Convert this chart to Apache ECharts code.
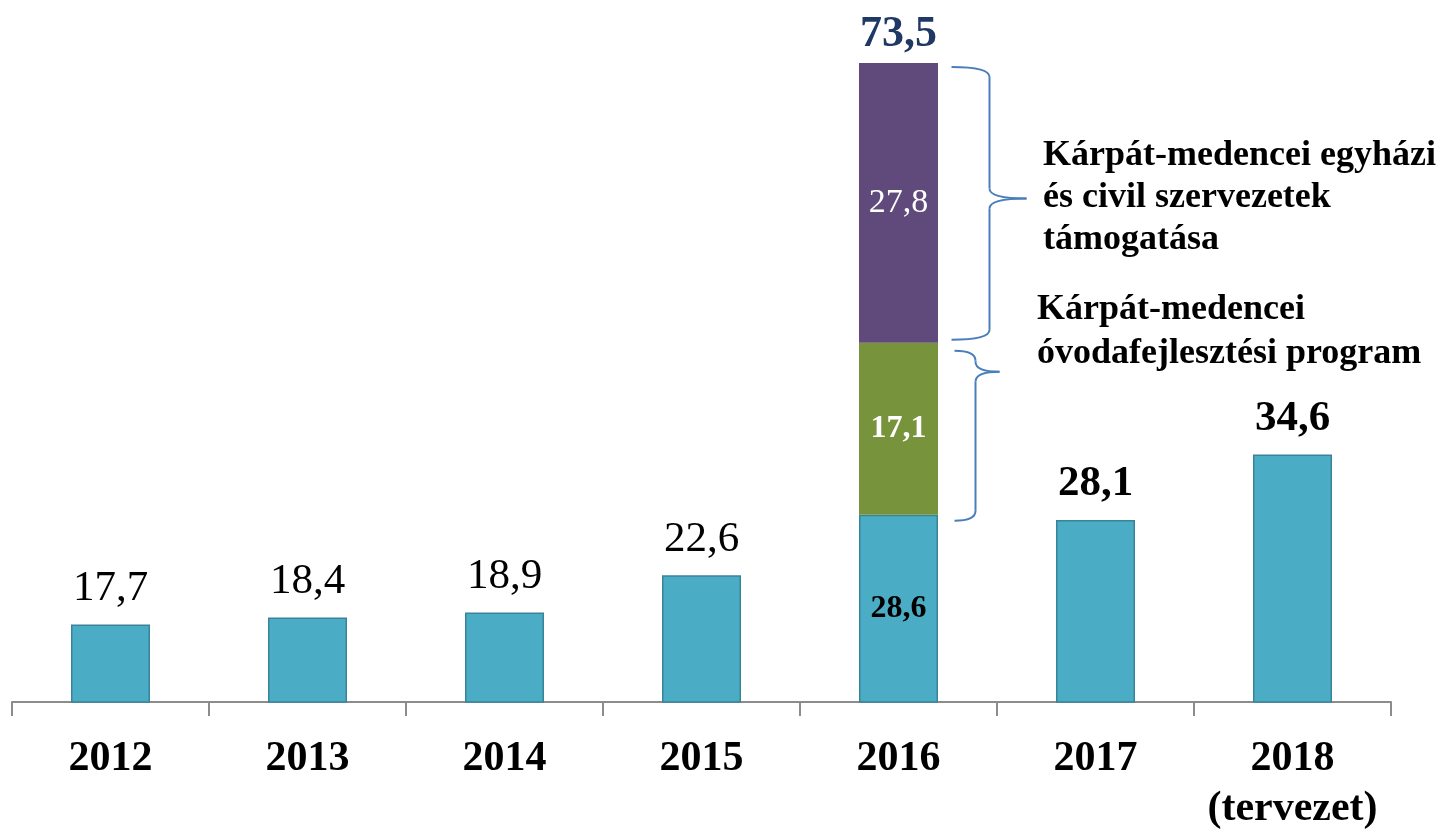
<!DOCTYPE html>
<html>
<head>
    <meta http-equiv="Content-Type" content="text/html; charset=utf-8"/>
    <title>ECharts</title>
    <script src="https://cdn.jsdelivr.net/npm/echarts@6/dist/echarts.min.js"></script>
    <style>
        html, body { margin: 0; padding: 0; background: #fff; }
    </style>
</head>
<body>
<div id="main" style="width: 1455px;height:836px;"></div>
<script type="text/javascript">
    // adatok
    var years = ['2012', '2013', '2014', '2015', '2016', '2017', '2018\n(tervezet)'];
    var baseValues = [17.7, 18.4, 18.9, 22.6, 28.6, 28.1, 34.6];
    var ovodaValues = ['-', '-', '-', '-', 17.1, '-', '-'];
    var egyhaziValues = ['-', '-', '-', '-', 27.8, '-', '-'];
    var totalValues = ['-', '-', '-', '-', 73.5, '-', '-'];

    var serif = 'Liberation Serif';
    function fmt(p) {
        return String(p.value).replace('.', ',');
    }

    var myChart = echarts.init(document.getElementById('main'));

    // címkék évenként: 2012-2015 normál, 2016 belül, 2017-2018 félkövér
    var baseData = baseValues.map(function (v, i) {
        var item = {value: v};
        if (i === 4) {
            item.label = {position: 'inside', fontWeight: 'bold', fontSize: 32, color: '#000', distance: 0};
        } else if (i > 4) {
            item.label = {fontWeight: 'bold'};
        }
        return item;
    });

    myChart.setOption({
        animation: false,
        grid: {left: 12, right: 64, top: 48, bottom: 134},
        xAxis: {
            type: 'category',
            data: years,
            axisLine: {lineStyle: {color: '#8c8c8c', width: 2}},
            axisTick: {show: true, length: 14, lineStyle: {color: '#8c8c8c', width: 2}},
            axisLabel: {
                interval: 0,
                margin: 32,
                fontFamily: serif,
                fontWeight: 'bold',
                fontSize: 42,
                lineHeight: 50,
                color: '#000'
            }
        },
        yAxis: {
            type: 'value',
            min: 10,
            max: 75,
            show: false,
            splitLine: {show: false}
        },
        series: [
            {
                name: 'alap',
                type: 'bar',
                stack: 'total',
                barWidth: 79,
                clip: true,
                itemStyle: {color: '#4BACC6', borderColor: '#3A8499', borderWidth: 1.5},
                label: {
                    show: true,
                    position: 'top',
                    distance: 14,
                    fontFamily: serif,
                    fontSize: 43,
                    color: '#000',
                    formatter: fmt
                },
                data: baseData
            },
            {
                name: 'óvoda',
                type: 'bar',
                stack: 'total',
                barWidth: 79,
                itemStyle: {color: '#77933C'},
                label: {
                    show: true,
                    position: 'inside',
                    fontFamily: serif,
                    fontWeight: 'bold',
                    fontSize: 32,
                    color: '#fff',
                    formatter: fmt
                },
                data: ovodaValues
            },
            {
                name: 'egyházi',
                type: 'bar',
                stack: 'total',
                barWidth: 79,
                itemStyle: {color: '#604A7B'},
                label: {
                    show: true,
                    position: 'inside',
                    fontFamily: serif,
                    fontSize: 34,
                    color: '#fff',
                    formatter: fmt
                },
                data: egyhaziValues
            },
            {
                name: 'összesen',
                type: 'scatter',
                symbolSize: 1,
                itemStyle: {color: 'rgba(0,0,0,0)', opacity: 1},
                label: {
                    show: true,
                    position: 'top',
                    distance: 6,
                    fontFamily: serif,
                    fontWeight: 'bold',
                    fontSize: 44,
                    color: '#1F3864',
                    opacity: 1,
                    formatter: fmt
                },
                data: totalValues
            }
        ]
    });

    // kapcsos zárójelek a 2016-os oszlop mellé
    var cat = years[4];
    var yBase = myChart.convertToPixel({seriesIndex: 0}, [cat, baseValues[4]]);
    var yMid = myChart.convertToPixel({seriesIndex: 0}, [cat, baseValues[4] + ovodaValues[4]]);
    var yTop = myChart.convertToPixel({seriesIndex: 0}, [cat, totalValues[4]]);
    var xRight = yBase[0] + 40;
    var braceStyle = {stroke: '#4A7EBB', lineWidth: 2, fill: null};

    function curve(x1, y1, cx, cy, x2, y2) {
        return {
            type: 'bezierCurve',
            shape: {x1: x1, y1: y1, x2: x2, y2: y2, cpx1: cx, cpy1: cy},
            style: braceStyle
        };
    }
    function seg(x1, y1, x2, y2) {
        return {type: 'line', shape: {x1: x1, y1: y1, x2: x2, y2: y2}, style: braceStyle};
    }
    function brace(x0, xv, xt, y1, yt, y2) {
        var r = 10;
        return [
            curve(x0, y1, xv, y1, xv, y1 + r),
            seg(xv, y1 + r, xv, yt - r),
            curve(xv, yt - r, xv, yt, xt, yt),
            curve(xt, yt, xv, yt, xv, yt + r),
            seg(xv, yt + r, xv, y2 - r),
            curve(xv, y2 - r, xv, y2, x0, y2)
        ];
    }

    var upTop = yTop[1] + 4, upBot = yMid[1] - 3;
    var loTop = yMid[1] + 8, loBot = yBase[1] + 6;
    var noteFont = 'bold 36px "Liberation Serif"';

    var elements = []
        .concat(brace(xRight + 13, xRight + 51, xRight + 88, upTop, (upTop + upBot) / 2 - 5, upBot))
        .concat(brace(xRight + 16, xRight + 37, xRight + 61, loTop, loTop + 21, loBot));
    elements.push({
        type: 'text',
        left: 1043,
        top: 135,
        style: {
            text: 'Kárpát-medencei egyházi\nés civil szervezetek\ntámogatása',
            font: noteFont,
            lineHeight: 42,
            fill: '#000'
        }
    });
    elements.push({
        type: 'text',
        left: 1037,
        top: 288,
        style: {
            text: 'Kárpát-medencei\nóvodafejlesztési program',
            font: noteFont,
            lineHeight: 44,
            fill: '#000'
        }
    });

    myChart.setOption({graphic: elements});
</script>
</body>
</html>
